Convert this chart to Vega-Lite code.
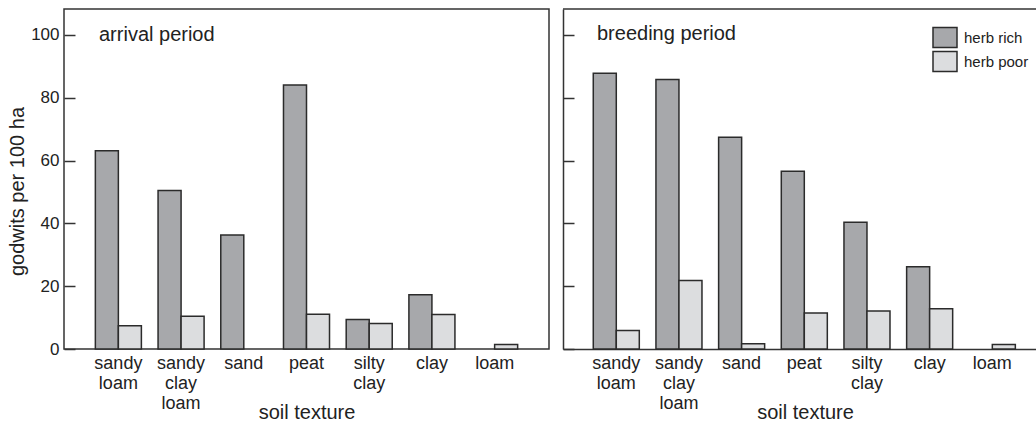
{
  "$schema": "https://vega.github.io/schema/vega-lite/v6.json",
  "padding": {"left": 6, "top": 8, "right": 0, "bottom": 0},
  "autosize": {"type": "pad"},
  "background": "white",
  "config": {
    "font": "Liberation Sans",
    "view": {"stroke": "#333", "strokeWidth": 1.5},
    "axis": {"domainColor": "#333", "domainWidth": 1.5, "tickColor": "#333", "tickWidth": 1.5, "labelColor": "#222", "titleColor": "#222", "labelFont": "Liberation Sans", "titleFont": "Liberation Sans", "titleFontWeight": "normal", "grid": false},
    "legend": {"labelFont": "Liberation Sans"}
  },
  "datasets": {
    "arrival": [
      {"soil": "sandy loam", "herb": "herb rich", "value": 63.1},
      {"soil": "sandy loam", "herb": "herb poor", "value": 7.4},
      {"soil": "sandy clay loam", "herb": "herb rich", "value": 50.5},
      {"soil": "sandy clay loam", "herb": "herb poor", "value": 10.4},
      {"soil": "sand", "herb": "herb rich", "value": 36.3},
      {"soil": "peat", "herb": "herb rich", "value": 84.1},
      {"soil": "peat", "herb": "herb poor", "value": 11.1},
      {"soil": "silty clay", "herb": "herb rich", "value": 9.4},
      {"soil": "silty clay", "herb": "herb poor", "value": 8.1},
      {"soil": "clay", "herb": "herb rich", "value": 17.3},
      {"soil": "clay", "herb": "herb poor", "value": 11.0},
      {"soil": "loam", "herb": "herb poor", "value": 1.4}
    ],
    "breeding": [
      {"soil": "sandy loam", "herb": "herb rich", "value": 87.8},
      {"soil": "sandy loam", "herb": "herb poor", "value": 5.9},
      {"soil": "sandy clay loam", "herb": "herb rich", "value": 85.8},
      {"soil": "sandy clay loam", "herb": "herb poor", "value": 21.8},
      {"soil": "sand", "herb": "herb rich", "value": 67.4},
      {"soil": "sand", "herb": "herb poor", "value": 1.7},
      {"soil": "peat", "herb": "herb rich", "value": 56.6},
      {"soil": "peat", "herb": "herb poor", "value": 11.5},
      {"soil": "silty clay", "herb": "herb rich", "value": 40.4},
      {"soil": "silty clay", "herb": "herb poor", "value": 12.1},
      {"soil": "clay", "herb": "herb rich", "value": 26.2},
      {"soil": "clay", "herb": "herb poor", "value": 12.8},
      {"soil": "loam", "herb": "herb poor", "value": 1.4}
    ]
  },
  "spacing": 12,
  "hconcat": [
    {
      "width": 485,
      "height": 340,
      "data": {"name": "arrival"},
      "title": {"text": "arrival period", "anchor": "start", "frame": "group", "dx": 35, "offset": -52, "baseline": "alphabetic", "fontSize": 20, "fontWeight": "normal", "font": "Liberation Sans", "color": "#222"},
      "mark": {"type": "bar", "stroke": "#2b2b2b", "strokeWidth": 1.5},
      "encoding": {
        "x": {
          "field": "soil", "type": "nominal",
          "scale": {"domain": ["sandy loam", "sandy clay loam", "sand", "peat", "silty clay", "clay", "loam"], "paddingInner": 0.266, "paddingOuter": 0.5},
          "axis": {"title": "soil texture", "labelExpr": "split(datum.label, ' ')", "labelAngle": 0, "ticks": false, "domain": false, "labelFontSize": 18, "labelLineHeight": 20, "labelPadding": 5, "labelBaseline": "top", "titleFontSize": 20, "titleY": 69, "titleBaseline": "alphabetic"}
        },
        "xOffset": {"field": "herb", "type": "nominal", "scale": {"domain": ["herb rich", "herb poor"], "paddingInner": 0, "paddingOuter": 0}},
        "y": {
          "field": "value", "type": "quantitative",
          "scale": {"domain": [0, 108.28], "nice": false, "zero": true},
          "axis": {"title": "godwits per 100 ha", "values": [0, 20, 40, 60, 80, 100], "tickSize": -11, "labelPadding": 16, "labelFontSize": 17, "domain": false, "titleFontSize": 20, "titleY": 182, "titlePadding": 3}
        },
        "fill": {
          "field": "herb", "type": "nominal",
          "scale": {"domain": ["herb rich", "herb poor"], "range": ["#a7a8ab", "#dcdddf"]},
          "legend": {"orient": "none", "legendX": 870, "legendY": 17.5, "title": null, "symbolType": "M-1.2,-1L1.2,-1L1.2,1L-1.2,1Z", "symbolSize": 400, "symbolStrokeColor": "#2b2b2b", "symbolStrokeWidth": 1.5, "labelFontSize": 15, "labelOffset": 8, "rowPadding": -3, "padding": 0, "labelColor": "#222"}
        }
      }
    },
    {
      "width": 473,
      "height": 340,
      "view": {"stroke": null},
      "title": {"text": "breeding period", "anchor": "start", "frame": "group", "dx": 34, "offset": -52, "baseline": "alphabetic", "fontSize": 20, "fontWeight": "normal", "font": "Liberation Sans", "color": "#222"},
      "layer": [
        {
          "data": {"values": [{}]},
          "mark": {"type": "rule", "stroke": "#333", "strokeWidth": 1.5},
          "encoding": {"y": {"datum": 108.28}}
        },
        {
          "data": {"name": "breeding"},
          "mark": {"type": "bar", "stroke": "#2b2b2b", "strokeWidth": 1.5},
          "encoding": {
            "x": {
              "field": "soil", "type": "nominal",
              "scale": {"domain": ["sandy loam", "sandy clay loam", "sand", "peat", "silty clay", "clay", "loam"], "paddingInner": 0.266, "paddingOuter": 0.4066, "align": 0.594},
              "axis": {"title": "soil texture", "labelExpr": "split(datum.label, ' ')", "labelAngle": 0, "ticks": false, "domain": true, "labelFontSize": 18, "labelLineHeight": 20, "labelPadding": 5, "labelBaseline": "top", "titleFontSize": 20, "titleY": 69, "titleX": 242, "titleBaseline": "alphabetic"}
            },
            "xOffset": {"field": "herb", "type": "nominal", "scale": {"domain": ["herb rich", "herb poor"], "paddingInner": 0, "paddingOuter": 0}},
            "y": {
              "field": "value", "type": "quantitative",
              "scale": {"domain": [0, 108.28], "nice": false, "zero": true},
              "axis": {"title": null, "labels": false, "values": [0, 20, 40, 60, 80, 100], "tickSize": -11, "domain": true}
            },
            "fill": {
              "field": "herb", "type": "nominal",
              "scale": {"domain": ["herb rich", "herb poor"], "range": ["#a7a8ab", "#dcdddf"]},
              "legend": {"orient": "none", "legendX": 870, "legendY": 17.5, "title": null, "symbolType": "M-1.2,-1L1.2,-1L1.2,1L-1.2,1Z", "symbolSize": 400, "symbolStrokeColor": "#2b2b2b", "symbolStrokeWidth": 1.5, "labelFontSize": 15, "labelOffset": 8, "rowPadding": -3, "padding": 0, "labelColor": "#222"}
            }
          }
        }
      ]
    }
  ]
}
